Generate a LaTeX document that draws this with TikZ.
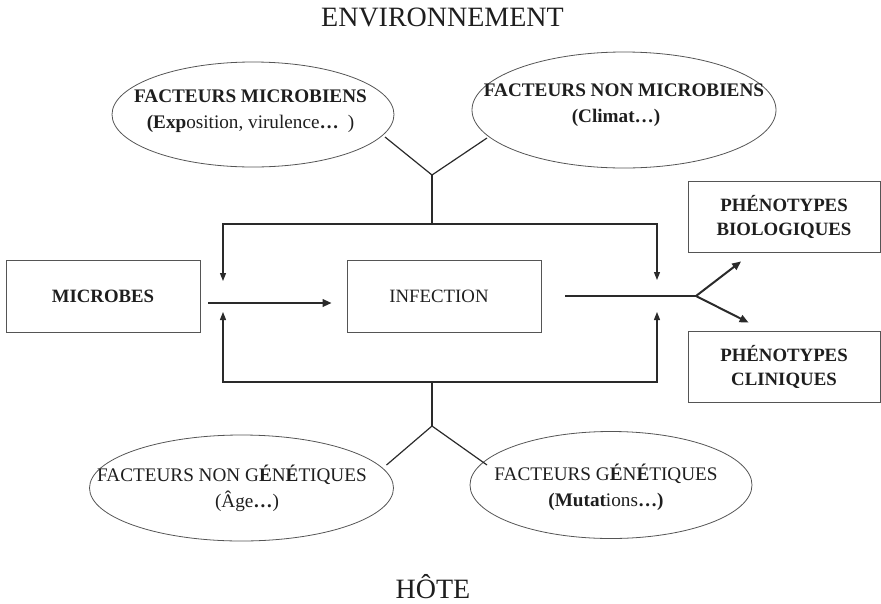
\documentclass[tikz,border=0pt]{standalone}
\usepackage{fontspec}
\setmainfont{Liberation Serif}
\usetikzlibrary{arrows.meta,positioning,shapes.geometric,calc}
\definecolor{InkGray}{HTML}{1E1E1E}
\definecolor{LineGray}{HTML}{2A2A2A}
\definecolor{FrameGray}{HTML}{555555}

\begin{document}
\begin{tikzpicture}[
x=1pt,y=-1pt,
title/.style={font=\fontsize{28}{30}\selectfont,text=InkGray,anchor=base,inner sep=0pt},
oval/.style={draw=FrameGray,line width=0.8pt,ellipse,inner sep=0pt},
ovaltext/.style={align=center,font=\fontsize{19.2}{26}\selectfont,text=InkGray,inner sep=0pt},
box/.style={draw=FrameGray,line width=0.8pt,minimum width=194pt,minimum height=72pt,align=center,font=\fontsize{18.8}{23.5}\selectfont,text=InkGray,inner sep=0pt},
link/.style={line width=1.2pt,draw=LineGray},
feed/.style={-{Triangle[length=8pt,width=6pt]},line width=1.2pt,draw=LineGray},
flow/.style={-{Triangle[length=9pt,width=7.5pt]},line width=2pt,draw=LineGray}
]
\useasboundingbox (0,0) rectangle (881,603);
% titles
\node[title] (env) at (442.5,26) {ENVIRONNEMENT};
\node[title] (hote) at (433,598) {HÔTE};

% environment factors
\node[oval,minimum width=282pt,minimum height=105pt] (fmic) at (253,114.5) {};
\node[ovaltext] (fmictxt) at (250.5,111.5) {\textbf{FACTEURS MICROBIENS}\\\textbf{(Exp}osition, virulence\textbf{\ldots}\hspace{9pt})};
\node[oval,minimum width=304pt,minimum height=116pt] (fnon) at (624,110) {};
\node[ovaltext] (fnontxt) at (624,105) {\textbf{FACTEURS NON MICROBIENS}\\\hspace*{-16pt}\textbf{(Climat\ldots)}};

% host factors
\node[oval,minimum width=304pt,minimum height=106pt] (hnon) at (241.5,488) {};
\node[ovaltext] (hnontxt) at (232,488.5) {FACTEURS NON G\textbf{É}N\textbf{É}TIQUES\\\hspace*{30pt}(Âge\textbf{\ldots})};
\node[oval,minimum width=282pt,minimum height=107pt] (hgen) at (611,485) {};
\node[ovaltext] (hgentxt) at (606,487.5) {FACTEURS G\textbf{É}N\textbf{É}TIQUES\\\textbf{(Mutat}ions\textbf{\ldots)}};

% boxes
\node[box] (micro) at (103,296) {\textbf{MICROBES}};
\node[box] (infect) at (444,296) {INFECTION\hspace*{10pt}};
\node[box,minimum width=192pt,minimum height=71pt] (phbio) at (784,217) {\textbf{PHÉNOTYPES}\\\textbf{BIOLOGIQUES}};
\node[box,minimum width=192pt,minimum height=71pt] (phcli) at (784,367) {\textbf{PHÉNOTYPES}\\\textbf{CLINIQUES}};

% junctions
\coordinate (jtop) at (432,175);
\coordinate (jbot) at (432,426);
\coordinate (ctop) at (432,224);
\coordinate (cbot) at (432,382);
\coordinate (ftl) at (385,137);
\coordinate (ftr) at (487,138);
\coordinate (fbl) at (386.5,465);
\coordinate (fbr) at (487,465);
\coordinate (inTop) at (223,281);
\coordinate (inBot) at (223,312);
\coordinate (outTop) at (657,280);
\coordinate (outBot) at (657,312);
\coordinate (jout) at (696,296);

\draw[link] (ftl) -- (jtop) -- (ftr);
\draw[link] (jtop) -- (ctop);
\draw[feed] (ctop) -| (inTop);
\draw[feed] (ctop) -| (outTop);
\draw[link] (fbl) -- (jbot) -- (fbr);
\draw[link] (jbot) -- (cbot);
\draw[feed] (cbot) -| (inBot);
\draw[feed] (cbot) -| (outBot);

\draw[flow] ([xshift=8pt,yshift=-7pt]micro.east) -- ([xshift=-15pt,yshift=-7pt]infect.west);
\draw[link,line width=2pt] ([xshift=24pt]infect.east) -- (jout);
\draw[flow] (jout) -- ([xshift=53.5pt,yshift=-8.5pt]phbio.south west);
\draw[flow] (jout) -- ([xshift=61pt,yshift=8.5pt]phcli.north west);
\end{tikzpicture}
\end{document}
